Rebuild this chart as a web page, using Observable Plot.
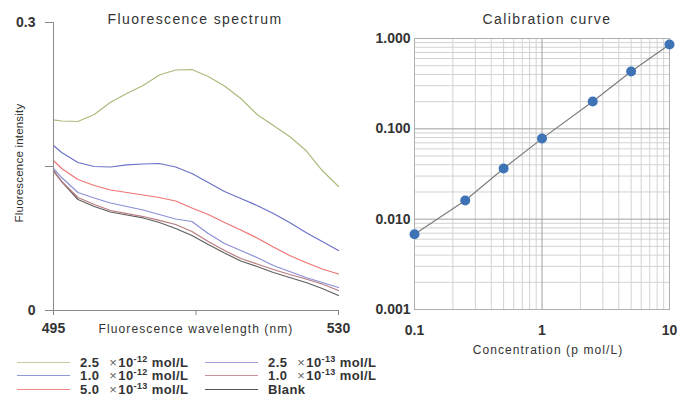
<!DOCTYPE html>
<html>
<head>
<meta charset="utf-8">
<script src="https://cdn.jsdelivr.net/npm/d3@7"></script>
<script src="https://cdn.jsdelivr.net/npm/@observablehq/plot@0.6"></script>
<style>
  html, body { margin: 0; padding: 0; background: #fff; }
  #page { position: relative; width: 677px; height: 396px; overflow: hidden;
          font-family: "Liberation Sans", Arial, sans-serif; color: #333; }
  .abs { position: absolute; }
  .title { font-size: 14px; letter-spacing: 1.4px; color: #333; white-space: nowrap; }
  .axis-title { font-size: 12px; letter-spacing: 1.1px; color: #333; white-space: nowrap; }
  .legend-row { position: absolute; height: 14px; display: flex; align-items: center; white-space: nowrap; }
  .legend-row .swatch { width: 53px; height: 0; border-top: 1.5px solid; margin-right: 10px; }
  .legend-row .lab { font-size: 13px; font-weight: bold; color: #333; letter-spacing: 0.4px; }
  .legend-row .lab .x { font-weight: normal; color: #666; margin-left: 6px; margin-right: 1px; }
  .legend-row .lab sup { font-size: 9px; vertical-align: 5px; line-height: 0; }
</style>
</head>
<body>
<div id="page"></div>
<script>
// Fluorescence spectra: wavelength (nm) and intensity per sample
const wavelengths = [495, 496, 498, 500, 502, 504, 506, 508, 510, 512, 514, 516, 518, 520, 522, 524, 526, 528, 530];
const spec_25e12 = [0.1986, 0.1974, 0.1969, 0.2042, 0.2170, 0.2260, 0.2344, 0.2453, 0.2505, 0.2510, 0.2438, 0.2339, 0.2208, 0.2042, 0.1927, 0.1813, 0.1667, 0.1458, 0.1292];
const spec_10e12 = [0.1719, 0.1646, 0.1542, 0.1500, 0.1495, 0.1516, 0.1526, 0.1531, 0.1495, 0.1427, 0.1333, 0.1240, 0.1167, 0.1094, 0.1010, 0.0917, 0.0813, 0.0719, 0.0625];
const spec_50e13 = [0.1563, 0.1479, 0.1365, 0.1302, 0.1255, 0.1229, 0.1203, 0.1177, 0.1141, 0.1068, 0.1000, 0.0917, 0.0839, 0.0755, 0.0661, 0.0573, 0.0500, 0.0432, 0.0380];
const spec_25e13 = [0.1479, 0.1385, 0.1229, 0.1172, 0.1120, 0.1083, 0.1047, 0.1000, 0.0953, 0.0927, 0.0802, 0.0698, 0.0625, 0.0552, 0.0469, 0.0406, 0.0344, 0.0292, 0.0240];
const spec_10e13 = [0.1448, 0.1344, 0.1177, 0.1104, 0.1042, 0.1010, 0.0979, 0.0938, 0.0896, 0.0823, 0.0719, 0.0625, 0.0542, 0.0484, 0.0427, 0.0375, 0.0328, 0.0276, 0.0208];
const spec_blank  = [0.1458, 0.1344, 0.1156, 0.1083, 0.1026, 0.0995, 0.0964, 0.0917, 0.0854, 0.0781, 0.0688, 0.0599, 0.0516, 0.0458, 0.0396, 0.0344, 0.0292, 0.0229, 0.0156];

// Series: legend mantissa, exponent, stroke colour (plot line / legend swatch)
const seriesMantissa = ["2.5", "1.0", "5.0", "2.5", "1.0", null];
const seriesExponent = ["-12", "-12", "-13", "-13", "-13", null];
const seriesValues = [spec_25e12, spec_10e12, spec_50e13, spec_25e13, spec_10e13, spec_blank];
const seriesColors = ["#a9bc7c", "#6b72c9", "#f07474", "#8a8fd6", "#b97a7e", "#5f5f5f"];
const swatchColors = ["#c3cfa0", "#8d9ad8", "#f08a8a", "#a69bdb", "#cf9199", "#555555"];

// Calibration curve: concentration (pmol/L) and response
const concentrations = [0.1, 0.25, 0.5, 1, 2.5, 5, 10];
const responses = [0.0068, 0.0161, 0.0364, 0.078, 0.201, 0.431, 0.858];

// Axis ticks
const spectrumXTicks = [495, 512.5, 530];
const spectrumYTicks = [0, 0.15, 0.3];
const calibXTicks = [0.1, 1, 10];
const calibYTicks = [0.001, 0.01, 0.1, 1];

const page = document.getElementById("page");

function place(node, left, top) {
  const wrap = document.createElement("div");
  wrap.className = "abs";
  wrap.style.left = left + "px";
  wrap.style.top = top + "px";
  wrap.appendChild(node);
  page.appendChild(wrap);
  return wrap;
}
function addText(html, cls, css) {
  const d = document.createElement("div");
  d.className = "abs " + cls;
  d.innerHTML = html;
  Object.assign(d.style, css);
  page.appendChild(d);
  return d;
}

// ---- Fluorescence spectrum ----
const specRows = [];
seriesValues.forEach((vals, s) => vals.forEach((v, i) => specRows.push({wl: wavelengths[i], v, s})));

const drawOrder = [5, 4, 3, 2, 1, 0];
const spectrum = Plot.plot({
  width: 362,
  height: 345,
  marginLeft: 53,
  marginRight: 24,
  marginTop: 22,
  marginBottom: 35,
  style: {fontFamily: "Liberation Sans, Arial, sans-serif", fontSize: "14px", fontWeight: "bold", color: "#333", background: "transparent", overflow: "visible"},
  x: {domain: [495, 530]},
  y: {domain: [0, 0.3]},
  marks: [
    ...drawOrder.map(s => Plot.line(specRows.filter(r => r.s === s), {x: "wl", y: "v", stroke: seriesColors[s], strokeWidth: 1.2})),
    Plot.ruleX([495], {y1: 0, y2: 0.3, stroke: "#8a8a8a"}),
    Plot.ruleY([0], {stroke: "#8a8a8a"}),
    Plot.axisY({ticks: spectrumYTicks, tickFormat: d => d === 0.15 ? "" : (d === 0 ? "0" : "0.3"), tickSize: 8, tickPadding: 10, stroke: "#8a8a8a", fill: "#333", label: null}),
    Plot.axisX({ticks: spectrumXTicks, tickFormat: d => d === 512.5 ? "" : String(d), tickSize: 5, tickPadding: 8, stroke: "#8a8a8a", fill: "#333", label: null})
  ]
});
place(spectrum, 0, 0);

addText("Fluorescence spectrum", "title", {left: "0px", width: "390px", textAlign: "center", top: "11px"});
addText("Fluorescence wavelength (nm)", "axis-title", {left: "96px", width: "200px", textAlign: "center", top: "322px"});
addText("Fluorescence intensity", "axis-title", {left: "-51px", width: "140px", textAlign: "center", top: "157px", transform: "rotate(-90deg)", fontSize: "11.5px", letterSpacing: "0.2px"});

// ---- Legend ----
const legendPos = [[17, 355], [17, 368.5], [17, 382], [205, 355], [205, 368.5], [205, 382]];
seriesValues.forEach((_, s) => {
  const row = document.createElement("div");
  row.className = "legend-row";
  row.style.left = legendPos[s][0] + "px";
  row.style.top = legendPos[s][1] + "px";
  const sw = document.createElement("div");
  sw.className = "swatch";
  sw.style.borderTopColor = swatchColors[s];
  const lab = document.createElement("span");
  lab.className = "lab";
  lab.innerHTML = seriesMantissa[s] === null
    ? "Blank"
    : `${seriesMantissa[s]} <span class="x">×</span>10<sup>${seriesExponent[s]}</sup> mol/L`;
  row.appendChild(sw);
  row.appendChild(lab);
  page.appendChild(row);
});

// ---- Calibration curve ----
const calibRows = concentrations.map((c, i) => ({c, r: responses[i]}));
const xGrid = d3.scaleLog().domain([0.1, 10]).ticks();
const yGrid = d3.scaleLog().domain([0.001, 1]).ticks();

const calib = Plot.plot({
  width: 332,
  height: 345,
  marginLeft: 69,
  marginRight: 8,
  marginTop: 38,
  marginBottom: 36,
  style: {fontFamily: "Liberation Sans, Arial, sans-serif", fontSize: "14px", fontWeight: "bold", color: "#333", background: "transparent"},
  x: {type: "log", domain: [0.1, 10]},
  y: {type: "log", domain: [0.001, 1]},
  marks: [
    Plot.ruleX(xGrid.filter(d => !calibXTicks.includes(d)), {stroke: "#d2d2d2"}),
    Plot.ruleY(yGrid.filter(d => !calibYTicks.includes(d)), {stroke: "#d2d2d2"}),
    Plot.ruleX(calibXTicks, {stroke: "#a0a0a0"}),
    Plot.ruleY(calibYTicks, {stroke: "#a0a0a0"}),
    Plot.frame({stroke: "#b0b0b0"}),
    Plot.line(calibRows, {x: "c", y: "r", stroke: "#7a7a7a", strokeWidth: 1.1}),
    Plot.dot(calibRows, {x: "c", y: "r", r: 5, fill: "#3e73b6", stroke: "none"}),
    Plot.axisY({ticks: calibYTicks, tickFormat: d3.format(".3f"), tickSize: 0, tickPadding: 4, fill: "#333", label: null}),
    Plot.axisX({ticks: calibXTicks, tickFormat: d => String(d), tickSize: 0, tickPadding: 16, fill: "#333", label: null})
  ]
});
place(calib, 345, 0);

addText("Calibration curve", "title", {left: "447px", width: "200px", textAlign: "center", top: "11px"});
addText("Concentration (p mol/L)", "axis-title", {left: "438px", width: "220px", textAlign: "center", top: "343px"});
</script>
</body>
</html>
